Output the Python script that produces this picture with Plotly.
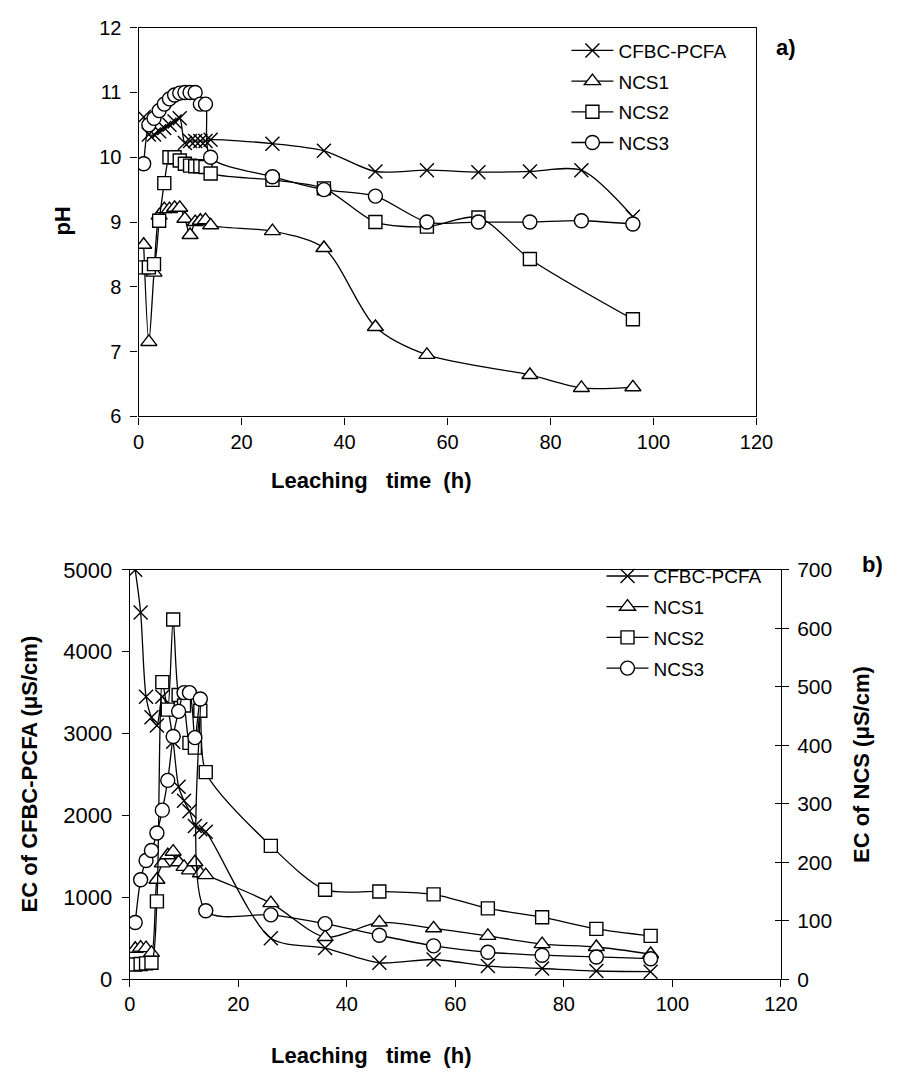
import plotly.graph_objects as go

# Leaching time (h)
time_h = [1, 2, 3, 4, 5, 6, 7, 8, 9, 10, 11, 12, 13, 14, 26, 36, 46, 56, 66, 76, 86, 96]

# a) pH of leachates
ph_cfbc = [10.62, 10.35, 10.35, 10.40, 10.45, 10.50, 10.55, 10.60, 10.22, 10.25, 10.25,
           10.25, 10.25, 10.27, 10.21, 10.10, 9.78, 9.80, 9.77, 9.78, 9.80, 9.08]
ph_ncs1 = [8.65, 7.15, 8.22, 9.10, 9.20, 9.20, 9.22, 9.22, 9.05, 8.80, 9.00,
           9.02, 9.03, 8.95, 8.86, 8.60, 7.38, 6.95, None, 6.64, 6.44, 6.45]
ph_ncs2 = [8.30, 8.30, 8.35, 9.02, 9.60, 10.00, 10.00, 9.95, 9.90, 9.87, 9.86,
           9.86, 9.85, 9.75, 9.65, 9.52, 9.00, 8.93, 9.07, 8.43, None, 7.50]
ph_ncs3 = [9.90, 10.50, 10.60, 10.72, 10.82, 10.90, 10.96, 10.99, 11.00, 11.00, 11.00,
           10.82, 10.82, 10.00, 9.70, 9.50, 9.40, 9.00, 9.00, 9.00, 9.02, 8.97]

# b) electrical conductivity (uS/cm)
ec_cfbc = [5000, 4480, 3450, 3200, 3100, 3450, 3300, 2900, 2350, 2180, 2050,
           1870, 1830, 1800, 500, 380, 200, 240, 160, 130, 100, 92]
ec_ncs1 = [52, 54, 53, 45, 170, 198, 212, 218, 200, 192, 186,
           200, 181, 178, 130, 72, 97, 87, 74, 60, 55, 43]
ec_ncs2 = [25, 26, 27, 28, 133, 508, 461, 615, 486, 468, 404,
           396, 459, 354, 228, 153, 150, 145, 121, 106, 86, 74]
ec_ncs3 = [97, 170, 203, 220, 250, 289, 340, 415, 458, 490, 490,
           413, 479, 117, 110, 95, 75, 57, 46, 41, 38, 35]

series_names = ["CFBC-PCFA", "NCS1", "NCS2", "NCS3"]
x_ticks = [0, 20, 40, 60, 80, 100, 120]

W, H = 907, 1084
FONT = "Liberation Sans, Arial, sans-serif"


def px(x):
    return x / W


def py(y):
    return 1 - y / H


symbols = {
    "CFBC-PCFA": dict(symbol="x-thin", size=14, color="black", line=dict(color="black", width=1.4)),
    "NCS1": dict(symbol="triangle-up", size=14, color="white", line=dict(color="black", width=1.4)),
    "NCS2": dict(symbol="square", size=13, color="white", line=dict(color="black", width=1.4)),
    "NCS3": dict(symbol="circle", size=14, color="white", line=dict(color="black", width=1.4)),
}
line_style = dict(color="black", width=1.3, shape="spline", smoothing=0.8)

fig = go.Figure()

# panel a)
for name, vals in zip(series_names, [ph_cfbc, ph_ncs1, ph_ncs2, ph_ncs3]):
    fig.add_trace(go.Scatter(
        x=time_h, y=vals, name=name, mode="lines+markers",
        line=line_style, marker=symbols[name], connectgaps=True,
        xaxis="x", yaxis="y", legend="legend", legendgroup="a" + name,
    ))

# panel b)
for name, vals in zip(series_names, [ec_cfbc, ec_ncs1, ec_ncs2, ec_ncs3]):
    fig.add_trace(go.Scatter(
        x=time_h, y=vals, name=name, mode="lines+markers",
        line=line_style, marker=symbols[name],
        xaxis="x2", yaxis="y2" if name == "CFBC-PCFA" else "y3",
        legend="legend2", legendgroup="b" + name,
    ))

# carrier for the inner tick marks of the right axis
fig.add_trace(go.Scatter(x=[None], y=[None], xaxis="x2", yaxis="y4",
                         showlegend=False, hoverinfo="skip"))


def axis_style(size):
    return dict(
        showline=True, linecolor="black", linewidth=1.3,
        ticks="outside", ticklen=7, tickwidth=1.3, tickcolor="black",
        showgrid=False, zeroline=False,
        tickfont=dict(family=FONT, size=size, color="black"),
    )


fig.update_layout(
    width=W, height=H,
    margin=dict(l=0, r=0, t=0, b=0),
    paper_bgcolor="white", plot_bgcolor="white",
    showlegend=True,
    xaxis=dict(domain=[px(136), px(770)], range=[0, 120], tickvals=x_ticks,
               anchor="y", mirror=True, **axis_style(20)),
    yaxis=dict(domain=[py(414), py(16)], range=[6, 12], dtick=1,
               anchor="x", mirror=True, ticklabelstandoff=5, **axis_style(20)),
    xaxis2=dict(domain=[px(127), px(795)], range=[0, 120], tickvals=x_ticks,
                anchor="y2", mirror=True, **axis_style(20)),
    yaxis2=dict(domain=[py(990), py(571)], range=[0, 5000], dtick=1000,
                anchor="x2", ticklabelstandoff=5, **axis_style(22)),
    yaxis3=dict(range=[0, 700], dtick=100, overlaying="y2", side="right",
                anchor="x2", ticklabelstandoff=4, **axis_style(21)),
    yaxis4=dict(range=[0, 700], dtick=100, overlaying="y2", side="right",
                anchor="x2", showline=False, showgrid=False, zeroline=False,
                ticks="inside", ticklen=6, tickwidth=1.3, tickcolor="black",
                showticklabels=False),
    legend=dict(x=px(575), y=py(20), xanchor="left", yanchor="top",
                font=dict(family=FONT, size=19, color="black"),
                bgcolor="rgba(0,0,0,0)", tracegroupgap=3, itemwidth=42),
    legend2=dict(x=px(611), y=py(558), xanchor="left", yanchor="top",
                 font=dict(family=FONT, size=19, color="black"),
                 bgcolor="rgba(0,0,0,0)", tracegroupgap=3, itemwidth=42),
)

title_font = dict(family=FONT, size=22, color="black")
nb = "\u00a0"
annotations = [
    dict(text="<b>pH</b>", x=px(58), y=py(214), textangle=-90),
    dict(text="<b>a)</b>", x=px(800), y=py(36), textangle=0),
    dict(text="<b>b)</b>", x=px(889), y=py(566), textangle=0),
    dict(text=f"<b>Leaching{nb*3}time{nb*2}(h)</b>", x=px(375), y=py(480), textangle=0),
    dict(text=f"<b>Leaching{nb*3}time{nb*2}(h)</b>", x=px(375), y=py(1068), textangle=0),
    dict(text="<b>EC of CFBC-PCFA (\u03bcS/cm)</b>", x=px(24), y=py(780), textangle=-90),
    dict(text="<b>EC of NCS (\u03bcS/cm)</b>", x=px(877), y=py(770), textangle=-90),
]
for a in annotations:
    fig.add_annotation(xref="paper", yref="paper", showarrow=False,
                       xanchor="center", yanchor="middle", font=title_font, **a)

fig.write_html("out.html")
